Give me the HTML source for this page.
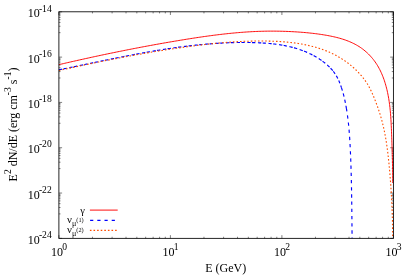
<!DOCTYPE html>
<html><head><meta charset="utf-8"><title>Spectrum</title>
<style>
html,body{margin:0;padding:0;background:#fff;}
body{width:415px;height:277px;overflow:hidden;font-family:"Liberation Serif",serif;}
svg{display:block;will-change:transform;}
text{font-family:"Liberation Serif",serif;font-size:12px;fill:#000;}
</style></head><body>
<svg width="415" height="277" viewBox="0 0 415 277">
<rect x="0" y="0" width="415" height="277" fill="#fff"/>
<path d="M58.90,238.35L58.90,235.15M58.90,11.80L58.90,15.00M92.46,238.35L92.46,236.75M92.46,11.80L92.46,13.40M112.10,238.35L112.10,236.75M112.10,11.80L112.10,13.40M126.03,238.35L126.03,236.75M126.03,11.80L126.03,13.40M136.84,238.35L136.84,236.75M136.84,11.80L136.84,13.40M145.66,238.35L145.66,236.75M145.66,11.80L145.66,13.40M153.13,238.35L153.13,236.75M153.13,11.80L153.13,13.40M159.59,238.35L159.59,236.75M159.59,11.80L159.59,13.40M165.30,238.35L165.30,236.75M165.30,11.80L165.30,13.40M170.40,238.35L170.40,235.15M170.40,11.80L170.40,15.00M203.96,238.35L203.96,236.75M203.96,11.80L203.96,13.40M223.60,238.35L223.60,236.75M223.60,11.80L223.60,13.40M237.53,238.35L237.53,236.75M237.53,11.80L237.53,13.40M248.34,238.35L248.34,236.75M248.34,11.80L248.34,13.40M257.16,238.35L257.16,236.75M257.16,11.80L257.16,13.40M264.63,238.35L264.63,236.75M264.63,11.80L264.63,13.40M271.09,238.35L271.09,236.75M271.09,11.80L271.09,13.40M276.80,238.35L276.80,236.75M276.80,11.80L276.80,13.40M281.90,238.35L281.90,235.15M281.90,11.80L281.90,15.00M315.46,238.35L315.46,236.75M315.46,11.80L315.46,13.40M335.10,238.35L335.10,236.75M335.10,11.80L335.10,13.40M349.03,238.35L349.03,236.75M349.03,11.80L349.03,13.40M359.84,238.35L359.84,236.75M359.84,11.80L359.84,13.40M368.66,238.35L368.66,236.75M368.66,11.80L368.66,13.40M376.13,238.35L376.13,236.75M376.13,11.80L376.13,13.40M382.59,238.35L382.59,236.75M382.59,11.80L382.59,13.40M388.30,238.35L388.30,236.75M388.30,11.80L388.30,13.40M393.40,238.35L393.40,235.15M393.40,11.80L393.40,15.00M58.90,11.80L62.10,11.80M393.40,11.80L390.20,11.80M58.90,32.66L60.50,32.66M393.40,32.66L391.80,32.66M58.90,26.26L60.50,26.26M393.40,26.26L391.80,26.26M58.90,22.41L60.50,22.41M393.40,22.41L391.80,22.41M58.90,19.66L60.50,19.66M393.40,19.66L391.80,19.66M58.90,17.50L60.50,17.50M393.40,17.50L391.80,17.50M58.90,15.74L60.50,15.74M393.40,15.74L391.80,15.74M58.90,14.24L60.50,14.24M393.40,14.24L391.80,14.24M58.90,12.95L60.50,12.95M393.40,12.95L391.80,12.95M58.90,57.11L62.10,57.11M393.40,57.11L390.20,57.11M58.90,77.97L60.50,77.97M393.40,77.97L391.80,77.97M58.90,71.57L60.50,71.57M393.40,71.57L391.80,71.57M58.90,67.72L60.50,67.72M393.40,67.72L391.80,67.72M58.90,64.97L60.50,64.97M393.40,64.97L391.80,64.97M58.90,62.81L60.50,62.81M393.40,62.81L391.80,62.81M58.90,61.05L60.50,61.05M393.40,61.05L391.80,61.05M58.90,59.55L60.50,59.55M393.40,59.55L391.80,59.55M58.90,58.26L60.50,58.26M393.40,58.26L391.80,58.26M58.90,102.42L62.10,102.42M393.40,102.42L390.20,102.42M58.90,123.28L60.50,123.28M393.40,123.28L391.80,123.28M58.90,116.88L60.50,116.88M393.40,116.88L391.80,116.88M58.90,113.03L60.50,113.03M393.40,113.03L391.80,113.03M58.90,110.28L60.50,110.28M393.40,110.28L391.80,110.28M58.90,108.12L60.50,108.12M393.40,108.12L391.80,108.12M58.90,106.36L60.50,106.36M393.40,106.36L391.80,106.36M58.90,104.86L60.50,104.86M393.40,104.86L391.80,104.86M58.90,103.57L60.50,103.57M393.40,103.57L391.80,103.57M58.90,147.73L62.10,147.73M393.40,147.73L390.20,147.73M58.90,168.59L60.50,168.59M393.40,168.59L391.80,168.59M58.90,162.19L60.50,162.19M393.40,162.19L391.80,162.19M58.90,158.34L60.50,158.34M393.40,158.34L391.80,158.34M58.90,155.59L60.50,155.59M393.40,155.59L391.80,155.59M58.90,153.43L60.50,153.43M393.40,153.43L391.80,153.43M58.90,151.67L60.50,151.67M393.40,151.67L391.80,151.67M58.90,150.17L60.50,150.17M393.40,150.17L391.80,150.17M58.90,148.88L60.50,148.88M393.40,148.88L391.80,148.88M58.90,193.04L62.10,193.04M393.40,193.04L390.20,193.04M58.90,213.90L60.50,213.90M393.40,213.90L391.80,213.90M58.90,207.50L60.50,207.50M393.40,207.50L391.80,207.50M58.90,203.65L60.50,203.65M393.40,203.65L391.80,203.65M58.90,200.90L60.50,200.90M393.40,200.90L391.80,200.90M58.90,198.74L60.50,198.74M393.40,198.74L391.80,198.74M58.90,196.98L60.50,196.98M393.40,196.98L391.80,196.98M58.90,195.48L60.50,195.48M393.40,195.48L391.80,195.48M58.90,194.19L60.50,194.19M393.40,194.19L391.80,194.19M58.90,238.35L62.10,238.35M393.40,238.35L390.20,238.35" stroke="#000" stroke-width="0.5" fill="none"/>
<path d="M58.92,64.66 L60.39,64.32 L61.86,63.97 L63.33,63.63 L64.79,63.29 L66.26,62.95 L67.73,62.62 L69.20,62.28 L70.67,61.94 L72.14,61.61 L73.61,61.28 L75.09,60.94 L76.56,60.61 L78.03,60.28 L79.50,59.95 L80.97,59.62 L82.45,59.30 L83.92,58.97 L85.40,58.64 L86.87,58.32 L88.34,58.00 L89.82,57.67 L91.29,57.35 L92.77,57.03 L94.25,56.71 L95.72,56.39 L97.20,56.08 L98.68,55.76 L100.15,55.45 L101.63,55.13 L103.11,54.82 L104.59,54.51 L106.07,54.20 L107.55,53.89 L109.03,53.58 L110.51,53.28 L111.99,52.97 L113.47,52.66 L114.95,52.36 L116.43,52.06 L117.91,51.76 L119.39,51.46 L120.87,51.16 L122.36,50.86 L123.84,50.57 L125.32,50.27 L126.81,49.98 L128.29,49.68 L129.77,49.39 L131.26,49.10 L132.74,48.81 L134.23,48.52 L135.71,48.24 L137.20,47.95 L138.69,47.67 L140.17,47.39 L141.66,47.10 L143.15,46.82 L144.63,46.54 L146.12,46.27 L147.61,45.99 L149.10,45.72 L150.58,45.44 L152.07,45.17 L153.56,44.90 L155.05,44.63 L156.54,44.36 L158.03,44.09 L159.52,43.82 L161.01,43.56 L162.50,43.30 L163.99,43.03 L165.48,42.77 L166.97,42.51 L168.47,42.26 L169.96,42.00 L171.45,41.74 L172.94,41.49 L174.44,41.24 L175.93,40.99 L177.42,40.74 L178.92,40.49 L180.41,40.24 L181.90,40.00 L183.40,39.75 L184.89,39.51 L186.39,39.27 L187.88,39.03 L189.38,38.79 L190.87,38.56 L192.37,38.33 L193.86,38.09 L195.36,37.87 L196.86,37.64 L198.35,37.42 L199.85,37.19 L201.35,36.97 L202.84,36.76 L204.34,36.54 L205.84,36.33 L207.34,36.13 L208.84,35.92 L210.33,35.72 L211.83,35.52 L213.33,35.32 L214.83,35.13 L216.33,34.94 L217.83,34.76 L219.33,34.58 L220.83,34.40 L222.33,34.22 L223.83,34.05 L225.33,33.89 L226.83,33.72 L228.33,33.56 L229.83,33.41 L231.33,33.26 L232.84,33.11 L234.34,32.97 L235.84,32.84 L237.34,32.70 L238.84,32.58 L240.35,32.45 L241.85,32.34 L243.35,32.22 L244.85,32.12 L246.36,32.01 L247.86,31.92 L249.36,31.82 L250.87,31.74 L252.37,31.65 L253.88,31.58 L255.38,31.51 L256.88,31.44 L258.39,31.39 L259.89,31.33 L261.40,31.29 L262.90,31.25 L264.41,31.21 L265.91,31.18 L267.42,31.16 L268.92,31.14 L270.43,31.13 L271.94,31.13 L273.44,31.13 L274.95,31.14 L276.45,31.16 L277.96,31.18 L279.47,31.20 L280.97,31.24 L282.48,31.27 L283.99,31.32 L285.50,31.37 L287.00,31.42 L288.51,31.49 L290.02,31.55 L291.53,31.63 L293.04,31.71 L294.54,31.79 L296.05,31.88 L297.56,31.98 L299.07,32.08 L300.58,32.19 L302.09,32.31 L303.60,32.43 L305.11,32.56 L306.62,32.70 L308.13,32.84 L309.64,33.00 L311.15,33.16 L312.66,33.33 L314.17,33.51 L315.69,33.69 L317.20,33.89 L318.71,34.10 L320.22,34.31 L321.73,34.54 L323.25,34.77 L324.76,35.02 L326.27,35.28 L327.78,35.55 L329.29,35.83 L330.80,36.13 L332.30,36.44 L333.79,36.77 L335.29,37.11 L336.77,37.48 L338.25,37.86 L339.72,38.26 L341.18,38.68 L342.63,39.13 L344.07,39.60 L345.50,40.09 L346.92,40.61 L348.32,41.15 L349.72,41.72 L351.09,42.31 L352.45,42.94 L353.80,43.59 L355.12,44.27 L356.43,44.99 L357.72,45.74 L359.00,46.52 L360.25,47.33 L361.48,48.18 L362.68,49.06 L363.87,49.98 L365.03,50.93 L366.16,51.91 L367.28,52.92 L368.36,53.95 L369.42,55.02 L370.45,56.11 L371.45,57.24 L372.43,58.38 L373.37,59.55 L374.28,60.74 L375.16,61.96 L376.01,63.20 L376.83,64.46 L377.62,65.74 L378.38,67.03 L379.10,68.35 L379.80,69.68 L380.47,71.03 L381.11,72.39 L381.73,73.77 L382.32,75.16 L382.88,76.56 L383.42,77.98 L383.94,79.40 L384.43,80.84 L384.89,82.28 L385.34,83.73 L385.76,85.19 L386.16,86.66 L386.54,88.13 L386.91,89.60 L387.25,91.07 L387.57,92.55 L387.88,94.03 L388.17,95.52 L388.44,97.00 L388.69,98.49 L388.93,99.98 L389.16,101.47 L389.37,102.97 L389.57,104.46 L389.75,105.96 L389.92,107.46 L390.08,108.96 L390.23,110.46 L390.37,111.97 L390.50,113.47 L390.62,114.98 L390.73,116.49 L390.83,118.00 L390.93,119.51 L391.02,121.02 L391.10,122.53 L391.18,124.05 L391.25,125.56 L391.32,127.08 L391.38,128.59 L391.45,130.11 L391.50,131.63 L391.56,133.14 L391.62,134.66 L391.67,136.18 L391.73,137.70 L391.78,139.21 L391.84,140.73 L391.89,142.25 L391.94,143.77 L391.99,145.29 L392.04,146.80 L392.09,148.32 L392.14,149.84 L392.19,151.35 L392.23,152.87 L392.28,154.38 L392.32,155.90 L392.36,157.41 L392.40,158.93 L392.43,160.44 L392.47,161.95 L392.50,163.46 L392.53,164.96 L392.56,166.47 L392.59,167.98 L392.61,169.48 L392.63,170.98 L392.65,172.48 L392.67,173.98 L392.68,175.48 L392.69,176.98 L392.70,178.47 L392.70,179.96 L392.70,181.45 L392.70,182.94" stroke="#ff0000" stroke-width="0.95" fill="none" stroke-linejoin="round"/>
<path d="M58.90,69.83 L59.57,69.68 L60.32,69.53 L61.07,69.38 L61.81,69.23 L62.56,69.08 L63.31,68.93 L64.05,68.78 L64.80,68.62 L65.55,68.47 L66.29,68.32 L67.04,68.17 L67.79,68.01 L68.53,67.86 L69.28,67.71 L70.03,67.55 L70.77,67.40 L71.52,67.25 L72.26,67.09 L73.01,66.94 L73.76,66.79 L74.50,66.63 L75.25,66.48 L75.99,66.32 L76.74,66.17 L77.48,66.02 L78.23,65.86 L78.97,65.71 L79.72,65.55 L80.46,65.40 L81.21,65.24 L81.96,65.09 L82.70,64.93 L83.44,64.78 L84.19,64.62 L84.93,64.47 L85.68,64.31 L86.42,64.16 L87.17,64.00 L87.91,63.85 L88.66,63.69 L89.40,63.54 L90.15,63.38 L90.89,63.23 L91.64,63.07 L92.38,62.92 L93.12,62.76 L93.87,62.61 L94.61,62.45 L95.36,62.30 L96.10,62.15 L96.84,61.99 L97.59,61.84 L98.33,61.68 L99.08,61.53 L99.82,61.37 L100.56,61.22 L101.31,61.07 L102.05,60.91 L102.80,60.76 L103.54,60.61 L104.28,60.45 L105.03,60.30 L105.77,60.15 L106.51,60.00 L107.26,59.84 L108.00,59.69 L108.75,59.54 L109.49,59.39 L110.23,59.24 L110.98,59.09 L111.72,58.93 L112.46,58.78 L113.21,58.63 L113.95,58.48 L114.69,58.33 L115.44,58.18 L116.18,58.03 L116.93,57.88 L117.67,57.74 L118.41,57.59 L119.16,57.44 L119.90,57.29 L120.64,57.14 L121.39,57.00 L122.13,56.85 L122.87,56.70 L123.62,56.56 L124.36,56.41 L125.11,56.26 L125.85,56.12 L126.59,55.97 L127.34,55.83 L128.08,55.69 L128.83,55.54 L129.57,55.40 L130.31,55.26 L131.06,55.11 L131.80,54.97 L132.55,54.83 L133.29,54.69 L134.03,54.55 L134.78,54.41 L135.52,54.27 L136.27,54.13 L137.01,53.99 L137.75,53.85 L138.50,53.71 L139.24,53.58 L139.99,53.44 L140.73,53.30 L141.48,53.17 L142.22,53.03 L142.97,52.90 L143.71,52.76 L144.46,52.63 L145.20,52.50 L145.95,52.36 L146.69,52.23 L147.44,52.10 L148.18,51.97 L148.93,51.84 L149.67,51.71 L150.42,51.58 L151.16,51.45 L151.91,51.32 L152.65,51.20 L153.40,51.07 L154.14,50.94 L154.89,50.82 L155.63,50.69 L156.38,50.57 L157.13,50.44 L157.87,50.32 L158.62,50.20 L159.36,50.08 L160.11,49.96 L160.86,49.84 L161.60,49.72 L162.35,49.60 L163.10,49.48 L163.84,49.36 L164.59,49.25 L165.34,49.13 L166.08,49.02 L166.83,48.90 L167.58,48.79 L168.33,48.68 L169.07,48.56 L169.82,48.45 L170.57,48.34 L171.32,48.23 L172.06,48.13 L172.81,48.02 L173.56,47.91 L174.31,47.80 L175.06,47.70 L175.81,47.59 L176.55,47.49 L177.30,47.39 L178.05,47.28 L178.80,47.18 L179.55,47.08 L180.30,46.98 L181.05,46.89 L181.80,46.79 L182.55,46.69 L183.30,46.59 L184.05,46.50 L184.80,46.41 L185.55,46.31 L186.30,46.22 L187.05,46.13 L187.80,46.04 L188.55,45.95 L189.30,45.86 L190.05,45.77 L190.80,45.69 L191.55,45.60 L192.30,45.52 L193.05,45.43 L193.81,45.35 L194.56,45.27 L195.31,45.19 L196.06,45.11 L196.81,45.03 L197.57,44.96 L198.32,44.88 L199.07,44.80 L199.82,44.73 L200.58,44.66 L201.33,44.58 L202.08,44.51 L202.84,44.44 L203.59,44.38 L204.35,44.31 L205.10,44.24 L205.85,44.18 L206.61,44.11 L207.36,44.05 L208.12,43.99 L208.87,43.93 L209.63,43.87 L210.38,43.81 L211.14,43.75 L211.89,43.69 L212.65,43.64 L213.41,43.58 L214.16,43.53 L214.92,43.48 L215.67,43.43 L216.43,43.38 L217.19,43.33 L217.95,43.29 L218.70,43.24 L219.46,43.20 L220.22,43.16 L220.98,43.11 L221.73,43.07 L222.49,43.03 L223.25,43.00 L224.01,42.96 L224.77,42.93 L225.53,42.89 L226.29,42.86 L227.05,42.83 L227.81,42.80 L228.57,42.77 L229.33,42.74 L230.09,42.72 L230.85,42.69 L231.61,42.67 L232.37,42.65 L233.13,42.63 L233.89,42.61 L234.66,42.59 L235.42,42.57 L236.18,42.56 L236.94,42.54 L237.71,42.53 L238.47,42.52 L239.23,42.51 L240.00,42.51 L240.76,42.50 L241.52,42.49 L242.29,42.49 L243.05,42.49 L243.82,42.49 L244.58,42.49 L245.35,42.49 L246.11,42.50 L246.88,42.50 L247.65,42.51 L248.41,42.52 L249.18,42.53 L249.94,42.54 L250.71,42.55 L251.48,42.57 L252.25,42.58 L253.01,42.60 L253.78,42.62 L254.55,42.64 L255.32,42.67 L256.08,42.69 L256.85,42.72 L257.62,42.75 L258.39,42.78 L259.15,42.81 L259.92,42.85 L260.69,42.89 L261.45,42.93 L262.22,42.97 L262.99,43.02 L263.75,43.07 L264.52,43.12 L265.28,43.17 L266.05,43.23 L266.81,43.29 L267.58,43.35 L268.34,43.41 L269.10,43.48 L269.86,43.55 L270.63,43.62 L271.39,43.70 L272.15,43.78 L272.90,43.86 L273.66,43.95 L274.42,44.04 L275.18,44.13 L275.93,44.23 L276.69,44.33 L277.44,44.43 L278.20,44.54 L278.95,44.65 L279.70,44.76 L280.45,44.88 L281.20,45.00 L281.94,45.13 L282.69,45.26 L283.44,45.39 L284.18,45.53 L284.92,45.67 L285.66,45.82 L286.40,45.97 L287.14,46.12 L287.88,46.28 L288.62,46.44 L289.35,46.61 L290.08,46.78 L290.81,46.96 L291.54,47.14 L292.27,47.32 L293.00,47.51 L293.72,47.71 L294.45,47.91 L295.17,48.11 L295.89,48.32 L296.60,48.54 L297.32,48.76 L298.03,48.98 L298.75,49.21 L299.46,49.45 L300.16,49.69 L300.87,49.94 L301.57,50.19 L302.28,50.44 L302.98,50.71 L303.67,50.98 L304.37,51.25 L305.06,51.53 L305.75,51.81 L306.44,52.10 L307.13,52.40 L307.81,52.70 L308.49,53.01 L309.17,53.33 L309.85,53.65 L310.52,53.97 L311.19,54.31 L311.86,54.64 L312.53,54.99 L313.19,55.34 L313.85,55.70 L314.51,56.06 L315.17,56.43 L315.82,56.81 L316.47,57.20 L317.12,57.59 L317.76,57.99 L318.40,58.39 L319.04,58.80 L319.68,59.22 L320.31,59.64 L320.94,60.08 L321.57,60.52 L322.19,60.96 L322.81,61.42 L323.43,61.88 L324.04,62.35 L324.64,62.82 L325.24,63.30 L325.84,63.79 L326.43,64.29 L327.01,64.79 L327.59,65.30 L328.16,65.82 L328.72,66.35 L329.27,66.88 L329.81,67.42 L330.35,67.97 L330.87,68.52 L331.39,69.08 L331.89,69.65 L332.39,70.23 L332.87,70.81 L333.34,71.41" stroke="#0000ff" stroke-width="1.15" fill="none" stroke-dasharray="3.3 1.4 3.3 2.6" stroke-linejoin="round"/><path d="M333.34,71.41 L333.80,72.00 L334.25,72.61 L334.68,73.22 L335.10,73.85 L335.51,74.47 L335.91,75.11 L336.29,75.75 L336.66,76.40 L337.02,77.05 L337.37,77.71 L337.71,78.38 L338.04,79.05 L338.36,79.73 L338.67,80.41 L338.97,81.09 L339.26,81.78 L339.55,82.48 L339.83,83.17 L340.10,83.88 L340.37,84.58 L340.63,85.29 L340.88,86.00 L341.13,86.71 L341.37,87.43" stroke="#0000ff" stroke-width="1.15" fill="none" stroke-dasharray="3.0 2.3" stroke-linejoin="round"/><path d="M341.37,87.43 L341.61,88.15 L341.84,88.87 L342.07,89.59 L342.30,90.32 L342.51,91.05 L342.73,91.78 L342.93,92.51 L343.14,93.24 L343.33,93.98 L343.53,94.72 L343.72,95.46 L343.90,96.20 L344.08,96.94 L344.26,97.69 L344.43,98.43 L344.60,99.18 L344.77,99.93 L344.93,100.68 L345.09,101.43 L345.24,102.18 L345.39,102.93 L345.54,103.68 L345.68,104.43 L345.83,105.18 L345.96,105.93 L346.10,106.69 L346.23,107.44 L346.36,108.19" stroke="#0000ff" stroke-width="1.15" fill="none" stroke-dasharray="3.3 3.0" stroke-linejoin="round"/><path d="M346.36,108.19 L346.49,108.95 L346.61,109.70 L346.73,110.45 L346.85,111.20 L346.97,111.96 L347.08,112.71 L347.19,113.46 L347.30,114.22 L347.41,114.97 L347.51,115.72 L347.61,116.48 L347.71,117.23 L347.81,117.99 L347.90,118.74 L347.99,119.49 L348.08,120.25 L348.17,121.00 L348.25,121.75 L348.34,122.51 L348.42,123.26 L348.50,124.02 L348.58,124.77 L348.65,125.53 L348.73,126.28 L348.80,127.03 L348.87,127.79 L348.94,128.54 L349.00,129.30 L349.07,130.05 L349.13,130.81 L349.20,131.56 L349.26,132.32 L349.32,133.07 L349.37,133.83 L349.43,134.58 L349.48,135.34 L349.54,136.09 L349.59,136.85 L349.64,137.60 L349.69,138.36 L349.74,139.11 L349.78,139.87 L349.83,140.62 L349.88,141.38 L349.92,142.13 L349.96,142.89 L350.01,143.65 L350.05,144.40 L350.09,145.16 L350.13,145.91 L350.17,146.67 L350.20,147.42 L350.24,148.18 L350.28,148.94 L350.31,149.69 L350.35,150.45 L350.38,151.20 L350.42,151.96 L350.45,152.72 L350.48,153.47 L350.52,154.23 L350.55,154.99 L350.58,155.74 L350.61,156.50 L350.64,157.26 L350.67,158.01 L350.70,158.77 L350.73,159.53 L350.76,160.28 L350.79,161.04 L350.82,161.80 L350.84,162.55 L350.87,163.31 L350.89,164.07 L350.92,164.82 L350.95,165.58 L350.97,166.34 L350.99,167.09 L351.02,167.85 L351.04,168.61 L351.06,169.37 L351.09,170.12 L351.11,170.88 L351.13,171.64 L351.15,172.40 L351.17,173.15 L351.19,173.91 L351.21,174.67 L351.23,175.43 L351.25,176.18 L351.27,176.94 L351.29,177.70 L351.31,178.46 L351.33,179.21 L351.34,179.97 L351.36,180.73 L351.38,181.49 L351.39,182.25 L351.41,183.00 L351.43,183.76 L351.44,184.52 L351.46,185.28 L351.47,186.04 L351.49,186.79 L351.50,187.55 L351.52,188.31 L351.53,189.07 L351.54,189.83 L351.56,190.59 L351.57,191.34 L351.58,192.10 L351.59,192.86 L351.61,193.62 L351.62,194.38 L351.63,195.14 L351.64,195.89 L351.65,196.65 L351.66,197.41 L351.68,198.17 L351.69,198.93 L351.70,199.69 L351.71,200.45 L351.72,201.20 L351.73,201.96 L351.74,202.72 L351.75,203.48 L351.76,204.24 L351.76,205.00 L351.77,205.76 L351.78,206.52 L351.79,207.28 L351.80,208.03 L351.81,208.79 L351.82,209.55 L351.83,210.31 L351.83,211.07 L351.84,211.83 L351.85,212.59 L351.86,213.35 L351.87,214.11 L351.87,214.87 L351.88,215.63 L351.89,216.38 L351.90,217.14 L351.90,217.90 L351.91,218.66 L351.92,219.42 L351.92,220.18 L351.93,220.94 L351.94,221.70 L351.95,222.46 L351.95,223.22 L351.96,223.98 L351.97,224.74 L351.97,225.50 L351.98,226.26 L351.99,227.02 L352.00,227.78 L352.00,228.54 L352.01,229.29 L352.02,230.05 L352.02,230.81 L352.03,231.57 L352.04,232.33 L352.05,233.09 L352.05,233.85 L352.06,234.61 L352.07,235.37 L352.08,236.13 L352.08,236.89 L352.09,237.65 L352.10,238.35" stroke="#0000ff" stroke-width="1.15" fill="none" stroke-dasharray="3.3 3.9" stroke-linejoin="round"/>
<path d="M58.90,70.55 L60.40,70.19 L61.99,69.84 L63.58,69.49 L65.17,69.14 L66.75,68.79 L68.34,68.44 L69.93,68.09 L71.51,67.75 L73.10,67.40 L74.69,67.06 L76.27,66.72 L77.86,66.38 L79.44,66.04 L81.03,65.70 L82.61,65.36 L84.19,65.03 L85.78,64.69 L87.36,64.36 L88.95,64.03 L90.53,63.70 L92.11,63.37 L93.70,63.04 L95.28,62.72 L96.86,62.40 L98.45,62.07 L100.03,61.75 L101.61,61.43 L103.20,61.11 L104.78,60.80 L106.36,60.48 L107.94,60.17 L109.53,59.86 L111.11,59.55 L112.69,59.24 L114.27,58.93 L115.86,58.62 L117.44,58.32 L119.02,58.02 L120.60,57.72 L122.19,57.42 L123.77,57.12 L125.35,56.82 L126.94,56.53 L128.52,56.24 L130.10,55.95 L131.68,55.66 L133.27,55.37 L134.85,55.09 L136.43,54.80 L138.02,54.52 L139.60,54.24 L141.19,53.96 L142.77,53.69 L144.36,53.41 L145.94,53.14 L147.52,52.87 L149.11,52.60 L150.70,52.33 L152.28,52.07 L153.87,51.81 L155.45,51.54 L157.04,51.28 L158.63,51.03 L160.21,50.77 L161.80,50.52 L163.39,50.27 L164.97,50.02 L166.56,49.77 L168.15,49.53 L169.74,49.28 L171.33,49.04 L172.92,48.80 L174.51,48.57 L176.10,48.33 L177.69,48.10 L179.28,47.87 L180.87,47.64 L182.46,47.41 L184.06,47.19 L185.65,46.97 L187.24,46.75 L188.84,46.53 L190.43,46.32 L192.03,46.11 L193.62,45.90 L195.22,45.70 L196.81,45.49 L198.41,45.29 L200.01,45.10 L201.61,44.91 L203.20,44.72 L204.80,44.53 L206.40,44.35 L208.00,44.17 L209.60,44.00 L211.21,43.83 L212.81,43.66 L214.41,43.50 L216.01,43.34 L217.62,43.19 L219.22,43.04 L220.83,42.89 L222.43,42.75 L224.04,42.62 L225.65,42.49 L227.26,42.36 L228.87,42.24 L230.48,42.12 L232.09,42.01 L233.70,41.91 L235.31,41.81 L236.92,41.71 L238.53,41.62 L240.15,41.54 L241.76,41.46 L243.38,41.39 L245.00,41.32 L246.61,41.26 L248.23,41.21 L249.85,41.16 L251.47,41.12 L253.09,41.08 L254.72,41.05 L256.34,41.03 L257.96,41.02 L259.59,41.01 L261.21,41.00 L262.84,41.01 L264.47,41.02 L266.09,41.04 L267.72,41.07 L269.35,41.10 L270.98,41.14 L272.61,41.20 L274.24,41.26 L275.87,41.33 L277.50,41.41 L279.12,41.50 L280.75,41.60 L282.37,41.71 L283.99,41.84 L285.61,41.97 L287.23,42.12 L288.84,42.28 L290.46,42.45 L292.06,42.64 L293.67,42.84 L295.27,43.05 L296.87,43.28 L298.46,43.52 L300.05,43.78 L301.64,44.05 L303.22,44.34 L304.80,44.65 L306.37,44.97 L307.93,45.31 L309.49,45.67 L311.04,46.04 L312.59,46.44 L314.13,46.85 L315.67,47.28 L317.19,47.73 L318.71,48.20 L320.23,48.69 L321.73,49.21 L323.23,49.74 L324.72,50.30 L326.20,50.88 L327.67,51.48 L329.13,52.10 L330.58,52.75 L332.03,53.43 L333.46,54.13 L334.89,54.85 L336.30,55.60 L337.70,56.38 L339.10,57.18 L340.48,58.01 L341.85,58.86 L343.21,59.75 L344.56,60.65 L345.90,61.59 L347.22,62.55 L348.53,63.54 L349.82,64.56 L351.10,65.59 L352.36,66.66 L353.60,67.75 L354.81,68.86 L356.01,69.99 L357.18,71.15 L358.32,72.33 L359.44,73.53 L360.53,74.74 L361.59,75.98 L362.62,77.24 L363.62,78.52 L364.59,79.81 L365.52,81.12 L366.41,82.45 L367.27,83.80 L368.09,85.16 L368.87,86.53 L369.62,87.92 L370.35,89.33 L371.04,90.75 L371.72,92.17 L372.37,93.62 L373.00,95.07 L373.62,96.53 L374.22,98.01 L374.82,99.49 L375.40,100.98 L375.98,102.49 L376.54,104.00 L377.10,105.51 L377.65,107.04 L378.18,108.56 L378.71,110.10 L379.22,111.64 L379.71,113.18 L380.19,114.73 L380.66,116.28 L381.11,117.84 L381.54,119.39 L381.96,120.95 L382.37,122.51 L382.76,124.08 L383.13,125.65 L383.49,127.22 L383.84,128.79 L384.18,130.36 L384.51,131.94 L384.82,133.52 L385.12,135.10 L385.41,136.69 L385.69,138.27 L385.96,139.86 L386.21,141.45 L386.46,143.04 L386.70,144.63 L386.93,146.23 L387.15,147.82 L387.37,149.42 L387.57,151.02 L387.77,152.62 L387.97,154.23 L388.15,155.83 L388.33,157.44 L388.50,159.04 L388.67,160.65 L388.83,162.26 L388.99,163.87 L389.14,165.48 L389.29,167.09 L389.44,168.71 L389.58,170.32 L389.72,171.93 L389.86,173.55 L389.99,175.16 L390.12,176.78 L390.25,178.40 L390.38,180.01 L390.50,181.63 L390.62,183.25 L390.73,184.86 L390.85,186.48 L390.96,188.10 L391.06,189.72 L391.17,191.33 L391.27,192.95 L391.36,194.57 L391.46,196.19 L391.55,197.80 L391.63,199.42 L391.72,201.03 L391.80,202.65 L391.87,204.26 L391.94,205.88 L392.01,207.49 L392.08,209.10 L392.14,210.72 L392.20,212.33 L392.25,213.94 L392.30,215.55 L392.35,217.15 L392.40,218.76 L392.44,220.36 L392.47,221.97 L392.50,223.57 L392.53,225.17 L392.56,226.77 L392.58,228.37 L392.59,229.97 L392.61,231.56 L392.61,233.15 L392.62,234.75 L392.62,236.34 L392.61,237.92" stroke="#ff4d00" stroke-width="1.1" fill="none" stroke-dasharray="1.6 2.0" stroke-linejoin="round"/>
<path d="M89.9,210.1H117.7" stroke="#ff0000" stroke-width="0.95" fill="none"/>
<path d="M90.1,220.4H117.7" stroke="#0000ff" stroke-width="1.15" fill="none" stroke-dasharray="3.2 4.0"/>
<path d="M89.9,230.4H117.7" stroke="#ff4d00" stroke-width="1.1" fill="none" stroke-dasharray="1.6 2.0"/>
<rect x="58.9" y="11.8" width="334.50" height="226.55" fill="none" stroke="#000" stroke-width="0.85"/>
<text x="39.7" y="17.30" text-anchor="end">10</text><text x="51.7" y="11.50" text-anchor="end" style="font-size:9.6px">-14</text>
<text x="39.7" y="62.61" text-anchor="end">10</text><text x="51.7" y="56.81" text-anchor="end" style="font-size:9.6px">-16</text>
<text x="39.7" y="107.92" text-anchor="end">10</text><text x="51.7" y="102.12" text-anchor="end" style="font-size:9.6px">-18</text>
<text x="39.7" y="153.23" text-anchor="end">10</text><text x="51.7" y="147.43" text-anchor="end" style="font-size:9.6px">-20</text>
<text x="39.7" y="198.54" text-anchor="end">10</text><text x="51.7" y="192.74" text-anchor="end" style="font-size:9.6px">-22</text>
<text x="39.7" y="243.85" text-anchor="end">10</text><text x="51.7" y="238.05" text-anchor="end" style="font-size:9.6px">-24</text>
<text x="63.10" y="255.9" text-anchor="end">10</text><text x="62.25" y="249.70" style="font-size:9.6px">0</text>
<text x="174.60" y="255.9" text-anchor="end">10</text><text x="173.75" y="249.70" style="font-size:9.6px">1</text>
<text x="286.10" y="255.9" text-anchor="end">10</text><text x="285.25" y="249.70" style="font-size:9.6px">2</text>
<text x="397.60" y="255.9" text-anchor="end">10</text><text x="396.75" y="249.70" style="font-size:9.6px">3</text>
<text x="225.65" y="272.4" text-anchor="middle">E (GeV)</text>
<text transform="translate(17,124.48) rotate(-90)" text-anchor="middle">E<tspan font-size="9.6" dy="-6.2">2</tspan><tspan dy="6.2"> dN/dE (erg cm</tspan><tspan font-size="9.6" dy="-6.2">-3</tspan><tspan dy="6.2"> s</tspan><tspan font-size="9.6" dy="-6.2">-1</tspan><tspan dy="6.2">)</tspan></text>
<text x="85.0" y="213.7" text-anchor="end" style="font-size:10.5px">γ</text>
<text x="66.9" y="222.7" style="font-size:10.8px">ν</text>
<text x="72.0" y="225.7" style="font-size:8px">μ</text>
<text x="76.3" y="221.5" style="font-size:6.3px">(1)</text>
<text x="66.9" y="232.9" style="font-size:10.8px">ν</text>
<text x="72.0" y="235.9" style="font-size:8px">μ</text>
<text x="76.3" y="231.7" style="font-size:6.3px">(2)</text>
</svg>
</body></html>
